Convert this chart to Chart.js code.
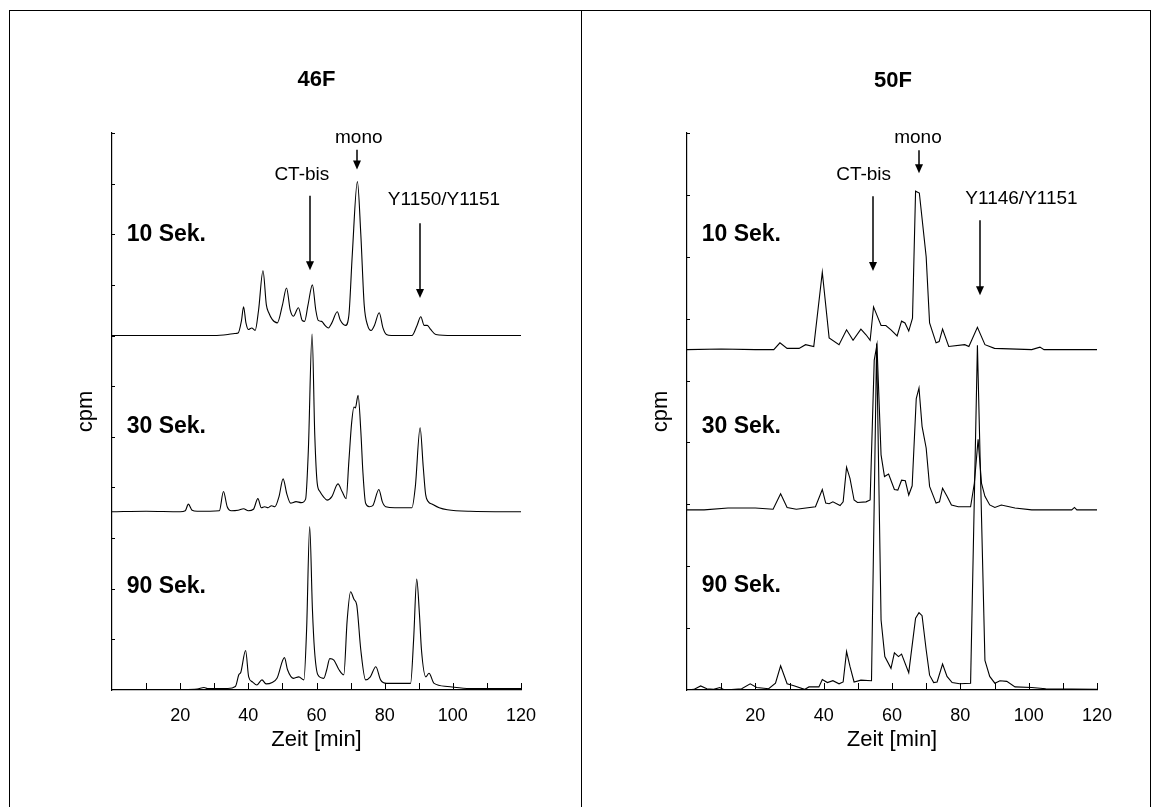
<!DOCTYPE html>
<html>
<head>
<meta charset="utf-8">
<script src="https://cdn.jsdelivr.net/npm/chart.js@4/dist/chart.umd.min.js"></script>
<style>
  body { margin: 0; background: #fff; }
  #page { position: relative; width: 1151px; height: 807px; overflow: hidden; }
  .frame { position: absolute; top: 10px; left: 9px; width: 1142px; height: 820px; border: 1px solid #000; box-sizing: border-box; }
  .divider { position: absolute; top: 10px; left: 581px; width: 1px; height: 800px; background: #000; }
  .panel { position: absolute; top: 10px; width: 570px; height: 797px; }
</style>
</head>
<body>
<div id="page">
  <div class="frame"></div>
  <div class="divider"></div>
  <div class="panel" style="left:10px;"><canvas id="c46"></canvas></div>
  <div class="panel" style="left:581px;"><canvas id="c50"></canvas></div>
</div>
<script>
// retention time [min], cpm above the trace's own baseline
const f46_10 = [[0,0],[30,0],[34,0.02],[36,0.04],[37,0.05],[38,0.3],[38.6,0.57],[39.3,0.25],[40,0.12],[41,0.15],[42,0.1],[43,0.5],[44.3,1.28],[45.3,0.6],[46,0.45],[47,0.32],[48.5,0.25],[50,0.6],[51.2,0.94],[52.3,0.5],[53.2,0.38],[54.7,0.55],[55.8,0.3],[56.5,0.28],[57.5,0.6],[58.8,1.0],[59.8,0.5],[60.5,0.3],[61.5,0.28],[62.5,0.2],[63.5,0.15],[64.5,0.25],[66.1,0.47],[67,0.3],[68.5,0.2],[69.5,0.4],[70.5,1.6],[72.0,3.04],[73,2.0],[74,0.6],[75,0.2],[76,0.1],[77,0.2],[78.4,0.45],[79.5,0.15],[80.5,0.02],[82,0],[88,0],[89.5,0.2],[90.6,0.37],[91.6,0.2],[92.5,0.2],[93.5,0.12],[95,0.02],[100,0],[120,0]];
const f46_30 = [[0,0],[10,0.01],[20,0],[21.5,0.02],[22.4,0.15],[23.5,0.03],[25,0.01],[31.5,0.02],[32.7,0.4],[33.8,0.1],[35,0.02],[37,0.03],[38.6,0.06],[40,0.02],[41.5,0.05],[42.8,0.26],[43.8,0.08],[44.8,0.1],[45.8,0.08],[46.8,0.12],[47.8,0.1],[49,0.3],[50.2,0.65],[51.3,0.35],[52.4,0.17],[54,0.2],[55.5,0.18],[56.8,0.25],[57.6,1.2],[58.7,3.51],[59.5,1.5],[60.2,0.57],[61,0.4],[62,0.3],[63.1,0.23],[64.5,0.3],[66.3,0.55],[67.5,0.4],[68.7,0.26],[69.5,1.0],[70.3,1.75],[71.0,2.07],[71.4,2.05],[72.2,2.3],[73.0,1.6],[73.6,0.8],[74.4,0.17],[75.5,0.1],[76.5,0.12],[78.3,0.44],[79.3,0.2],[80.3,0.1],[83,0.08],[88,0.08],[89,0.5],[90.4,1.66],[91.3,0.9],[92.0,0.35],[92.8,0.2],[94,0.15],[96,0.08],[98.4,0.04],[105,0.01],[120,0]];
const f46_90 = [[0,0],[20,0.01],[25,0.02],[27,0.05],[28,0.03],[34,0.03],[36.2,0.07],[37.2,0.3],[37.8,0.35],[39.2,0.78],[40.1,0.26],[41.2,0.16],[42.5,0.1],[44.0,0.2],[45.2,0.12],[47,0.15],[48.4,0.23],[50.6,0.64],[51.5,0.4],[53.3,0.23],[54.8,0.26],[56.3,0.2],[57.1,1.2],[58.0,3.23],[58.8,1.6],[59.4,0.8],[60.4,0.3],[62.1,0.23],[63.0,0.4],[63.9,0.62],[65.1,0.59],[66.6,0.4],[68.0,0.3],[69.0,1.38],[70.0,1.94],[71.0,1.79],[71.8,1.68],[73.0,0.79],[74.4,0.2],[75.8,0.26],[77.4,0.46],[78.8,0.2],[80.6,0.13],[87.6,0.13],[88.5,1.0],[89.4,2.19],[90.2,1.5],[90.8,0.79],[92.1,0.26],[93.0,0.33],[94.5,0.13],[98.4,0.07],[105,0.03],[120,0.03]];

const f50_10 = [[0,0],[10,0.01],[20,0],[25.4,0],[27.2,0.11],[29.3,0.02],[32.8,0.02],[34.7,0.08],[37.1,0.05],[39.6,1.25],[41.6,0.19],[44.5,0.08],[46.7,0.32],[48.6,0.15],[50.9,0.33],[52.4,0.24],[53.6,0.15],[54.6,0.69],[56.8,0.39],[58.2,0.39],[59.7,0.32],[61.5,0.22],[62.8,0.46],[63.8,0.43],[64.9,0.3],[66.0,0.51],[66.9,2.56],[68.0,2.53],[70.0,1.5],[71.0,0.43],[72.9,0.11],[73.8,0.13],[74.8,0.33],[76.6,0.05],[81.3,0.08],[82.5,0.05],[85.0,0.36],[87.2,0.08],[90,0.02],[100.9,0],[103.3,0.04],[104.5,0],[120,0]];
const f50_30 = [[0,0],[5,0],[12,0.03],[20,0.03],[25.2,0.01],[27.4,0.26],[29.3,0.04],[32,0.01],[37.6,0.05],[39.6,0.33],[40.6,0.11],[41.6,0.1],[42.7,0.13],[44.8,0.07],[45.7,0.13],[46.7,0.69],[47.7,0.51],[48.9,0.16],[49.9,0.12],[52.4,0.13],[53.6,0.16],[54.8,2.42],[55.6,2.67],[56.8,0.89],[57.8,0.54],[59.0,0.58],[60.7,0.33],[61.7,0.32],[62.8,0.48],[63.9,0.47],[64.9,0.24],[65.9,0.39],[67.1,1.8],[67.9,1.97],[68.8,1.35],[70.0,1.0],[71.0,0.38],[72.9,0.11],[73.9,0.13],[74.8,0.35],[76.1,0.22],[77.4,0.08],[79.4,0.05],[83.0,0.05],[84.1,0.43],[85.2,1.14],[86.2,0.43],[87.2,0.22],[88.6,0.08],[90.1,0.04],[92,0.08],[96,0.03],[100.9,0],[112.6,0],[113.4,0.04],[114.1,0],[120,0]];
const f50_90 = [[0,0],[2,0.01],[4.0,0.065],[5.8,0.02],[7.8,0.01],[9.6,0.04],[11,0],[16,0.02],[18.5,0.1],[20.4,0.04],[23.9,0.02],[25.9,0.11],[27.4,0.39],[29.3,0.1],[31.3,0.07],[34.4,0.01],[35.7,0.05],[38.6,0.05],[39.6,0.17],[41.1,0.12],[42.7,0.15],[44.5,0.1],[45.7,0.13],[46.7,0.62],[47.7,0.38],[48.9,0.13],[50.9,0.16],[54.0,0.15],[55.5,5.6],[56.8,1.13],[57.9,0.54],[59.7,0.35],[60.7,0.6],[61.9,0.54],[62.8,0.58],[64.9,0.28],[66.9,1.16],[67.9,1.25],[68.8,1.2],[70.0,0.65],[71.0,0.24],[72.2,0.12],[73.2,0.13],[74.8,0.42],[76.1,0.22],[77.6,0.12],[79.8,0.1],[83.0,0.11],[85.0,5.57],[87.2,0.48],[88.6,0.22],[90.1,0.11],[91.6,0.15],[93.6,0.14],[96.0,0.05],[100.9,0.04],[105,0.02],[120,0.01]];

// vertical shift of each trace (stacked display)
const offsets46 = [7.0, 3.52, 0];
const offsets50 = [5.5, 2.91, 0];
const sampleNames = ['10 Sek.', '30 Sek.', '90 Sek.'];
const xTickValues = [10, 20, 30, 40, 50, 60, 70, 80, 90, 100, 110, 120];

const FONT = "'Liberation Sans', Arial, Helvetica, sans-serif";

// inward ticks, arrows and text labels, positioned in data units
const notesPlugin = {
  id: 'notes',
  afterDraw(chart, args, o) {
    const {ctx, scales: {x, y}} = chart;
    const area = chart.chartArea;
    ctx.save();
    ctx.strokeStyle = '#000';
    ctx.fillStyle = '#000';
    ctx.lineWidth = 1;
    ctx.beginPath();
    xTickValues.forEach(v => {
      const px = Math.round(x.getPixelForValue(v)) + 0.5;
      ctx.moveTo(px, area.bottom);
      ctx.lineTo(px, area.bottom - 7);
    });
    for (let v = 1; v <= y.max; v++) {
      const py = Math.round(y.getPixelForValue(v)) + 0.5;
      ctx.moveTo(area.left, py);
      ctx.lineTo(area.left + 3, py);
    }
    ctx.stroke();

    ctx.textBaseline = 'middle';
    ctx.textAlign = 'center';
    ctx.font = 'bold 22px ' + FONT;
    ctx.fillText(o.title[0], x.getPixelForValue(o.title[1]), y.getPixelForValue(o.title[2]));

    ctx.font = '19px ' + FONT;
    o.peaks.forEach(p => ctx.fillText(p[0], x.getPixelForValue(p[1]), y.getPixelForValue(p[2])));

    ctx.textAlign = 'left';
    ctx.font = 'bold 23px ' + FONT;
    o.samples.forEach((s, i) => ctx.fillText(sampleNames[i], x.getPixelForValue(o.sampleX), y.getPixelForValue(s)));

    ctx.lineWidth = 1.5;
    o.arrows.forEach(a => {
      const px = Math.round(x.getPixelForValue(a[0]));
      const y1 = y.getPixelForValue(a[1]);
      const y2 = y.getPixelForValue(a[2]);
      ctx.beginPath();
      ctx.moveTo(px, y1);
      ctx.lineTo(px, y2 - 8);
      ctx.stroke();
      ctx.beginPath();
      ctx.moveTo(px - 4, y2 - 9);
      ctx.lineTo(px + 4, y2 - 9);
      ctx.lineTo(px, y2);
      ctx.closePath();
      ctx.fill();
    });
    ctx.restore();
  }
};

function makeChart(id, traces, offsets, ymax, smooth, pad, yWidth, notes) {
  const datasets = traces.map((tr, i) => ({
    data: tr.map(p => ({x: p[0], y: p[1] + offsets[i]})),
    borderColor: '#000',
    borderWidth: 1.1,
    pointRadius: 0,
    fill: false,
    cubicInterpolationMode: smooth ? 'monotone' : 'default',
    tension: 0
  }));
  return new Chart(document.getElementById(id), {
    type: 'line',
    data: {datasets},
    plugins: [notesPlugin],
    options: {
      responsive: true,
      maintainAspectRatio: false,
      animation: false,
      events: [],
      layout: {padding: pad},
      plugins: {
        legend: {display: false},
        tooltip: {enabled: false},
        notes
      },
      scales: {
        x: {
          type: 'linear', min: 0, max: 120,
          afterFit(s) { s.height = 63; },
          border: {display: true, color: '#000', width: 1.2},
          grid: {display: false},
          ticks: {
            stepSize: 10, autoSkip: false, maxRotation: 0, padding: 7,
            color: '#000', font: {family: FONT, size: 18},
            callback: v => (v > 0 && v % 20 === 0) ? String(v) : ''
          },
          title: {display: true, text: 'Zeit [min]', color: '#000',
                  font: {family: FONT, size: 22}, padding: {top: 0, bottom: 0}}
        },
        y: {
          min: 0, max: ymax,
          afterFit(s) { s.width = yWidth; },
          border: {display: true, color: '#000', width: 1.2},
          grid: {display: false},
          ticks: {display: false, stepSize: 1},
          title: {display: true, text: 'cpm', color: '#000',
                  font: {family: FONT, size: 22}, padding: {top: 0, bottom: 0}}
        }
      }
    }
  });
}

makeChart('c46', [f46_10, f46_30, f46_90], offsets46, 11, true,
  {left: 63, right: 59, top: 123, bottom: 54}, 39,
  {title: ['46F', 60, 12.04],
   peaks: [['mono', 72.4, 10.91], ['CT-bis', 55.7, 10.18], ['Y1150/Y1151', 97.4, 9.68]],
   arrows: [[72.0, 10.67, 10.28], [58.2, 9.76, 8.29], [90.4, 9.22, 7.74]],
   sampleX: 4.3, samples: [8.99, 5.2, 2.04]});

makeChart('c50', [f50_10, f50_30, f50_90], offsets50, 9, false,
  {left: 67, right: 54, top: 123, bottom: 54}, 39,
  {title: ['50F', 60.3, 9.84],
   peaks: [['mono', 67.6, 8.92], ['CT-bis', 51.7, 8.32], ['Y1146/Y1151', 97.9, 7.93]],
   arrows: [[67.9, 8.72, 8.35], [54.5, 7.98, 6.77], [85.7, 7.59, 6.38]],
   sampleX: 4.3, samples: [7.35, 4.26, 1.68]});
</script>
</body>
</html>
